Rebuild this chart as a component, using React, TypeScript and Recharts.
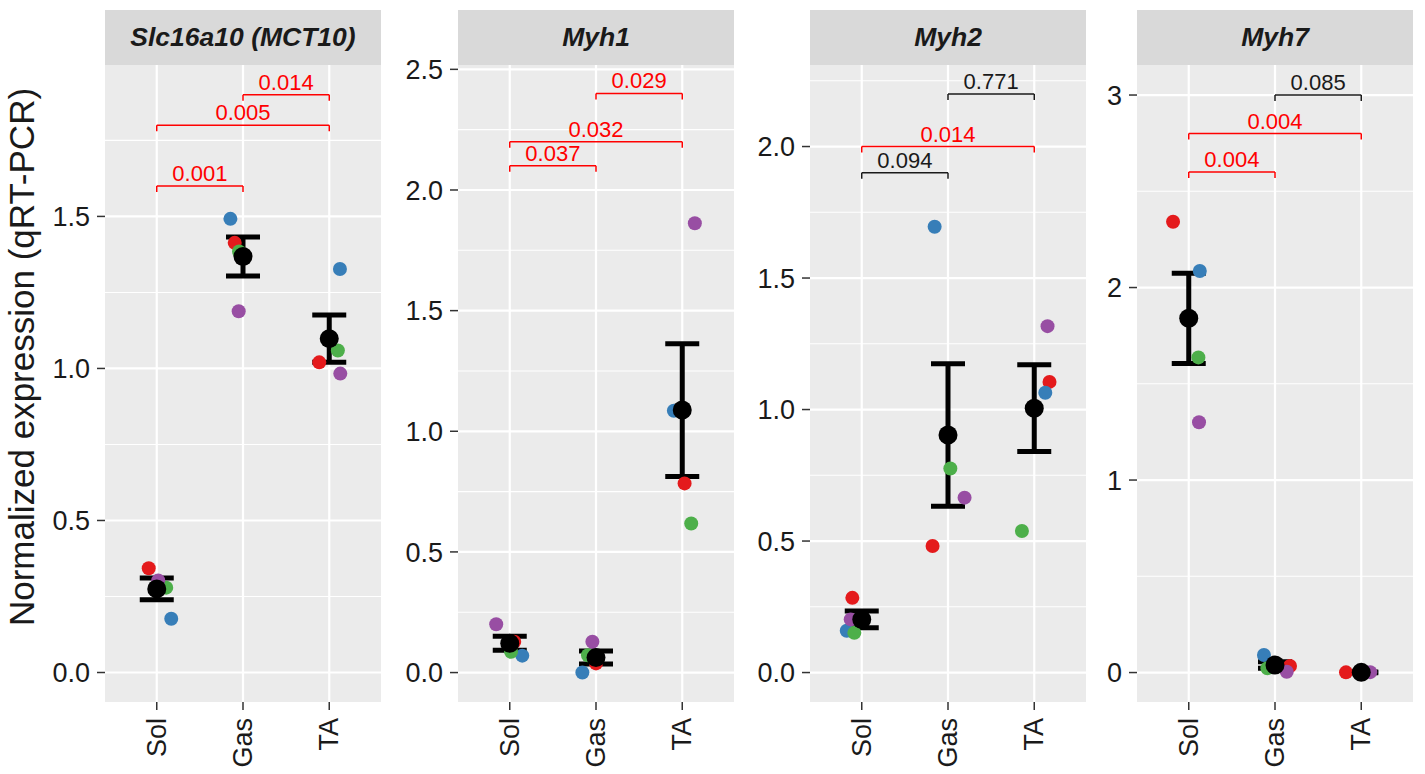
import React from 'react';
import {
  ScatterChart,
  Scatter,
  XAxis,
  YAxis,
  CartesianGrid,
  ErrorBar,
  ReferenceLine,
  ReferenceDot
} from 'recharts';

const tissues = ['Sol', 'Gas', 'TA'];
const genes = ['Slc16a10 (MCT10)', 'Myh1', 'Myh2', 'Myh7'];

// replicate order: red, blue, green, purple — values for Sol, Gas, TA
const slcPoints = [
  [0.343, 1.413, 1.02],
  [0.177, 1.492, 1.327],
  [0.279, 1.385, 1.059],
  [0.303, 1.188, 0.983]
];
const slcJitter = [
  [-0.093, -0.096, -0.116],
  [0.168, -0.146, 0.124],
  [0.11, -0.046, 0.1],
  [0.017, -0.05, 0.128]
];
const slcMean = [0.275, 1.368, 1.098];
const slcSe = [0.036, 0.064, 0.078];

const myh1Points = [
  [0.128, 0.038, 0.784],
  [0.07, 0.0, 1.085],
  [0.086, 0.072, 0.618],
  [0.2, 0.128, 1.862]
];
const myh1Jitter = [
  [0.052, 0.0, 0.027],
  [0.145, -0.158, -0.097],
  [0.015, -0.093, 0.104],
  [-0.157, -0.042, 0.146]
];
const myh1Mean = [0.121, 0.062, 1.088];
const myh1Se = [0.029, 0.027, 0.275];

const myh2Points = [
  [0.284, 0.481, 1.105],
  [0.159, 1.695, 1.064],
  [0.151, 0.776, 0.538],
  [0.202, 0.665, 1.317]
];
const myh2Jitter = [
  [-0.109, -0.179, 0.177],
  [-0.174, -0.155, 0.128],
  [-0.086, 0.027, -0.143],
  [-0.128, 0.192, 0.154]
];
const myh2Mean = [0.202, 0.903, 1.005];
const myh2Se = [0.032, 0.271, 0.165];

const myh7Points = [
  [2.342, 0.034, 0.001],
  [2.086, 0.091, 0.0],
  [1.637, 0.022, 0.001],
  [1.3, 0.004, 0.002]
];
const myh7Jitter = [
  [-0.182, 0.174, -0.177],
  [0.128, -0.128, 0.035],
  [0.112, -0.088, -0.023],
  [0.119, 0.136, 0.104]
];
const myh7Mean = [1.84, 0.039, 0.001];
const myh7Se = [0.234, 0.017, 0.002];

// pairwise comparisons: [from, to, bracket height, p value, significant]
const slcTests = [
  [1, 2, 1.6, '0.001', true],
  [1, 3, 1.8, '0.005', true],
  [2, 3, 1.9, '0.014', true]
];
const myh1Tests = [
  [1, 2, 2.1, '0.037', true],
  [1, 3, 2.2, '0.032', true],
  [2, 3, 2.4, '0.029', true]
];
const myh2Tests = [
  [1, 2, 1.9, '0.094', false],
  [1, 3, 2.0, '0.014', true],
  [2, 3, 2.2, '0.771', false]
];
const myh7Tests = [
  [1, 2, 2.6, '0.004', true],
  [1, 3, 2.8, '0.004', true],
  [2, 3, 3.0, '0.085', false]
];

const slcTicks = [0, 0.5, 1, 1.5];
const slcMinor = [0.25, 0.75, 1.25, 1.75];
const myh1Ticks = [0, 0.5, 1, 1.5, 2, 2.5];
const myh1Minor = [0.25, 0.75, 1.25, 1.75, 2.25];
const myh2Ticks = [0, 0.5, 1, 1.5, 2];
const myh2Minor = [0.25, 0.75, 1.25, 1.75, 2.25];
const myh7Ticks = [0, 1, 2, 3];
const myh7Minor = [0.5, 1.5, 2.5];

const FONT = '"Liberation Sans", Arial, Helvetica, sans-serif';
const repColors = ['#E41A1C', '#377EB8', '#4DAF4A', '#984EA3'];
const SIG = '#FF0000';
const NS = '#1A1A1A';

const PLOT_W = 276;
const PLOT_TOP = 65;
const PLOT_H = 637;
const XAXIS_H = 72;
const HEADROOM = 20; // room above the plot so the top tick label is not clipped

const panels = [
  { gene: genes[0], points: slcPoints, jitter: slcJitter, mean: slcMean, se: slcSe, tests: slcTests, ticks: slcTicks, minor: slcMinor, domain: [-0.097, 1.998], left: 105, axisW: 105, fmt: (v) => v.toFixed(1) },
  { gene: genes[1], points: myh1Points, jitter: myh1Jitter, mean: myh1Mean, se: myh1Se, tests: myh1Tests, ticks: myh1Ticks, minor: myh1Minor, domain: [-0.122, 2.518], left: 458, axisW: 72, fmt: (v) => v.toFixed(1) },
  { gene: genes[2], points: myh2Points, jitter: myh2Jitter, mean: myh2Mean, se: myh2Se, tests: myh2Tests, ticks: myh2Ticks, minor: myh2Minor, domain: [-0.112, 2.31], left: 810, axisW: 72, fmt: (v) => v.toFixed(1) },
  { gene: genes[3], points: myh7Points, jitter: myh7Jitter, mean: myh7Mean, se: myh7Se, tests: myh7Tests, ticks: myh7Ticks, minor: myh7Minor, domain: [-0.153, 3.156], left: 1137, axisW: 72, fmt: (v) => String(v) }
];

const dot = (r, color) => (p) => <circle cx={p.cx} cy={p.cy} r={r} fill={color} />;

const TissueTick = ({ x, y, payload }) => (
  <text
    transform={`translate(${x},${y}) rotate(-90)`}
    textAnchor="end"
    dominantBaseline="central"
    fontSize={27}
    fill={NS}
  >
    {tissues[payload.value - 1]}
  </text>
);

function Panel({ cfg }) {
  const { gene, points, jitter, mean, se, tests, ticks, minor, domain, left, axisW, fmt } = cfg;
  const tip = ((domain[1] - domain[0]) * 6) / PLOT_H;
  const meanData = mean.map((m, i) => ({ x: i + 1, y: m, se: se[i] }));

  return (
    <>
      <div
        style={{
          position: 'absolute', left, top: 10, width: PLOT_W, height: 55,
          background: '#D9D9D9', display: 'flex', alignItems: 'center', justifyContent: 'center',
          fontSize: 26.5, fontWeight: 'bold', fontStyle: 'italic', color: NS
        }}
      >
        {gene}
      </div>
      <div style={{ position: 'absolute', left: left - axisW, top: PLOT_TOP - HEADROOM }}>
        <ScatterChart
          width={axisW + PLOT_W}
          height={HEADROOM + PLOT_H + XAXIS_H}
          margin={{ top: HEADROOM, right: 0, bottom: 0, left: 0 }}
        >
          <CartesianGrid fill="#EBEBEB" stroke="#FFFFFF" strokeWidth={1.1} vertical={false} horizontalValues={minor} />
          <CartesianGrid stroke="#FFFFFF" strokeWidth={2.2} verticalValues={[1, 2, 3]} horizontalValues={ticks} />
          <XAxis
            type="number"
            dataKey="x"
            domain={[0.4, 3.6]}
            ticks={[1, 2, 3]}
            interval={0}
            allowDataOverflow
            height={XAXIS_H}
            axisLine={false}
            tickLine={{ stroke: '#333333', strokeWidth: 1.5 }}
            tickSize={8}
            tickMargin={8}
            tick={<TissueTick />}
          />
          <YAxis
            type="number"
            dataKey="y"
            domain={domain}
            ticks={ticks}
            interval={0}
            allowDataOverflow
            width={axisW}
            axisLine={false}
            tickLine={{ stroke: '#333333', strokeWidth: 1.5 }}
            tickSize={8}
            tickMargin={7}
            tick={{ fontSize: 27, fill: NS }}
            tickFormatter={fmt}
          />
          {points.map((vals, r) => (
            <Scatter
              key={r}
              data={vals.map((v, i) => ({ x: i + 1 + jitter[r][i], y: v }))}
              fill={repColors[r]}
              shape={dot(7, repColors[r])}
              isAnimationActive={false}
            />
          ))}
          <Scatter data={meanData} fill="#000000" shape={dot(9.5, '#000000')} isAnimationActive={false}>
            <ErrorBar dataKey="se" direction="y" width={17} stroke="#000000" strokeWidth={5} isAnimationActive={false} />
          </Scatter>
          {tests.map(([a, b, y, p, sig], k) => {
            const col = sig ? SIG : NS;
            return [
              <ReferenceLine key={`h${k}`} segment={[{ x: a, y }, { x: b, y }]} stroke={col} strokeWidth={1.5} />,
              <ReferenceLine key={`l${k}`} segment={[{ x: a, y }, { x: a, y: y - tip }]} stroke={col} strokeWidth={1.5} />,
              <ReferenceLine key={`r${k}`} segment={[{ x: b, y }, { x: b, y: y - tip }]} stroke={col} strokeWidth={1.5} />,
              <ReferenceDot
                key={`t${k}`}
                x={(a + b) / 2}
                y={y}
                r={0}
                shape={(d) => (
                  <text x={d.cx} y={d.cy - 5} textAnchor="middle" fill={col} fontSize={22}>
                    {p}
                  </text>
                )}
              />
            ];
          })}
        </ScatterChart>
      </div>
    </>
  );
}

export default function App() {
  return (
    <div
      style={{
        position: 'absolute', left: 0, top: 0, width: 1425, height: 774,
        background: '#FFFFFF', fontFamily: FONT, overflow: 'hidden'
      }}
    >
      <div
        style={{
          position: 'absolute', left: 22, top: 357, transform: 'translate(-50%, -50%) rotate(-90deg)',
          whiteSpace: 'nowrap', fontSize: 35, color: NS
        }}
      >
        Normalized expression (qRT-PCR)
      </div>
      {panels.map((cfg) => (
        <Panel key={cfg.gene} cfg={cfg} />
      ))}
    </div>
  );
}
